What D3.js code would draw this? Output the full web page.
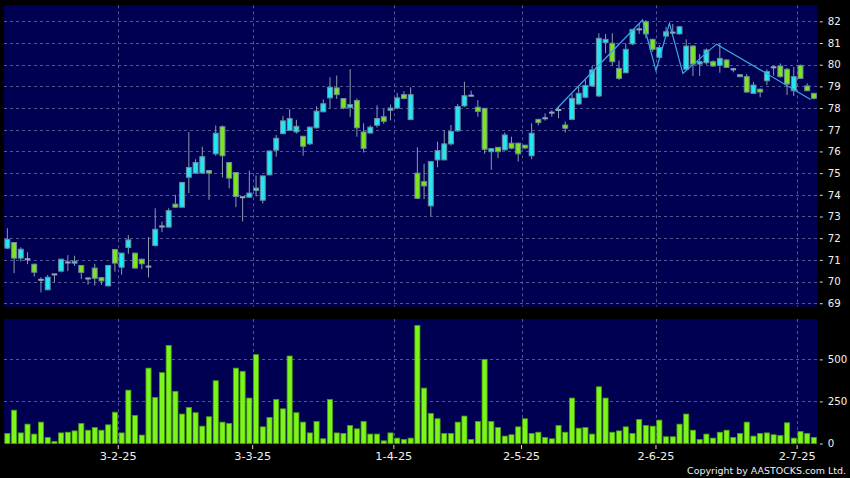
<!DOCTYPE html>
<html><head><meta charset="utf-8">
<script src="https://cdn.jsdelivr.net/npm/d3@7"></script>
<style>html,body{margin:0;padding:0;background:#000;}svg{display:block;}</style>
</head><body>
<script>
// ---- DATA (trading-day index 0 = first bar) ----
const openP  = [71.54,71.80,71.08,71.03,70.80,70.08,69.62,70.33,70.48,70.88,70.85,70.74,70.14,70.62,70.18,69.80,71.48,70.66,71.57,71.31,71.03,70.69,71.66,72.54,72.51,73.57,73.43,74.81,75.00,75.00,75.12,75.89,77.14,75.49,75.03,73.89,73.89,74.20,73.75,74.92,76.06,76.82,76.97,76.90,76.70,76.35,77.09,77.83,78.47,78.93,78.44,78.03,78.35,76.90,76.85,77.21,77.60,77.90,78.00,78.62,77.47,75.00,74.61,73.49,75.61,75.61,76.35,76.95,78.10,78.57,78.04,77.99,75.99,76.19,76.07,76.38,76.38,76.29,75.80,77.48,77.53,77.79,77.91,77.22,77.48,78.19,78.50,79.02,78.56,81.02,80.99,79.83,79.63,80.96,81.63,81.98,81.17,80.34,81.32,81.48,81.42,79.79,80.86,80.03,80.09,80.14,79.97,80.22,79.79,79.48,79.45,78.68,78.87,79.26,79.88,79.94,79.79,78.80,79.97,79.02,78.68];
const highP  = [72.46,71.82,71.58,71.35,70.82,70.20,70.30,70.35,71.05,71.22,71.19,70.76,70.20,70.82,70.20,70.76,71.50,71.33,72.14,71.33,71.05,72.05,73.38,72.77,73.38,74.00,74.60,76.90,75.64,76.22,75.15,77.20,77.20,75.50,75.05,73.92,75.12,74.89,74.90,76.05,76.76,77.64,77.95,77.46,76.72,77.15,78.09,78.40,79.42,79.50,78.46,79.80,78.44,77.30,77.20,78.13,77.95,78.16,78.70,78.78,78.96,76.19,75.43,75.55,76.45,76.99,77.22,78.19,79.22,78.80,78.37,78.00,76.15,76.20,76.87,76.68,76.40,76.30,77.30,77.50,77.76,77.90,78.07,77.38,78.65,78.99,79.33,79.94,81.45,81.42,81.45,80.19,80.99,81.65,81.88,82.06,81.20,80.90,81.75,81.88,81.78,81.17,80.90,80.49,80.75,80.20,80.99,80.25,79.85,79.57,79.57,79.20,78.90,79.79,79.94,80.06,79.85,79.90,80.00,79.14,78.70];
const lowP   = [71.50,70.39,70.92,70.80,70.23,69.50,69.60,69.96,70.42,70.48,70.72,70.11,69.85,69.82,69.85,69.78,70.46,70.31,71.28,70.60,70.57,70.19,71.62,72.28,72.50,73.40,73.40,74.08,74.98,75.00,73.77,75.80,74.80,74.30,73.43,72.77,73.87,73.92,73.60,74.90,75.76,76.80,76.95,76.82,75.80,76.30,77.05,77.80,78.00,78.42,77.95,77.60,76.68,75.95,76.82,77.10,77.27,77.43,77.95,78.40,77.45,73.80,73.80,73.00,75.27,75.60,76.27,76.90,78.05,78.55,77.60,75.89,75.15,75.69,76.05,76.10,75.53,76.10,75.64,77.20,77.42,77.60,77.53,76.87,77.45,78.15,78.45,78.98,78.50,80.53,79.94,79.30,79.60,80.90,81.42,81.22,80.60,80.30,81.30,81.42,81.40,79.75,79.48,79.48,80.00,79.90,79.63,79.85,79.65,79.45,78.70,78.65,78.50,79.06,79.50,79.40,78.60,78.56,79.35,78.78,78.40];
const closeP = [71.95,71.08,71.49,71.03,70.43,70.08,70.20,70.33,71.03,70.88,70.94,70.42,70.14,70.15,70.03,70.74,70.85,71.31,71.92,70.62,70.82,70.69,72.41,72.54,73.27,73.43,74.57,75.26,75.49,75.76,75.00,76.84,75.80,74.77,73.92,73.89,74.08,74.31,74.87,76.02,76.61,77.41,77.52,77.16,76.24,77.12,77.86,78.20,78.96,78.62,78.00,78.16,77.09,76.14,77.12,77.52,77.39,78.00,78.47,78.44,78.62,73.84,74.41,75.53,76.04,76.35,76.92,78.07,78.57,78.57,77.85,76.10,76.13,75.99,76.76,76.15,75.89,76.16,76.84,77.33,77.53,77.79,77.91,77.07,78.45,78.68,79.04,79.76,81.22,81.17,80.14,79.37,80.71,81.63,81.63,81.42,80.71,80.79,81.52,81.48,81.75,80.86,80.03,80.14,80.68,79.94,80.29,79.88,79.79,79.54,78.74,79.06,78.74,79.68,79.88,79.45,79.11,79.45,79.37,78.80,78.45];
const volume = [60,198,63,115,56,127,36,12,63,67,75,119,79,95,79,111,186,63,317,167,50,448,274,421,583,310,175,214,183,103,159,373,127,119,448,429,270,528,99,155,262,206,520,183,127,63,131,28,262,63,60,107,87,131,56,56,16,63,32,24,32,702,329,179,147,60,60,127,163,24,131,500,131,95,44,52,99,147,60,67,36,28,107,67,270,91,95,56,337,270,67,75,99,60,143,107,103,139,40,40,115,175,79,24,56,32,67,79,36,60,127,44,60,63,52,48,123,32,71,60,36];
// month ticks: label and index of the first trading day of that month
const tickLabels = ["3-2-25","3-3-25","1-4-25","2-5-25","2-6-25","2-7-25"];
const tickDays   = [17,37,58,77,97,118];
const priceTicks = [69,70,71,72,73,74,75,76,77,78,79,80,81,82];
const volTicks   = [0,250,500];
// overlay trend line (day index at bar boundary, price)
const trendDays  = [82,95,97,99,101,106,120];
const trendVals  = [77.90,82.06,79.72,81.91,79.60,80.95,78.40];

// ---- LAYOUT ----
const W = 850, H = 478;
const L = 4, R = 817.3;
const pTop = 5.3, pBot = 306.7;
const vTop = 319, vBot = 444;
const bg = "#000052", gridC = "#55558f";
const cyan = "#22e6f4", green = "#7ee41e", edge = "#6a8c9c", wickC = "#8b9bab";
const fontF = "DejaVu Sans, Verdana, sans-serif";

const svg = d3.select("body").append("svg").attr("width", W).attr("height", H);
svg.append("rect").attr("width", W).attr("height", H).attr("fill", "#000");

const n = closeP.length;
const x = d3.scaleBand().domain(d3.range(n)).range([L, R]).padding(0);
const bw = x.bandwidth();
const cx = i => x(i) + bw / 2;
const y = d3.scaleLinear().domain([68.84, 82.74]).range([pBot, pTop]);
const yv = d3.scaleLinear().domain([0, 740]).range([443.5, vTop]);

// panels
svg.append("rect").attr("x", L).attr("y", pTop).attr("width", R - L).attr("height", pBot - pTop).attr("fill", bg);
svg.append("rect").attr("x", L).attr("y", vTop).attr("width", R - L).attr("height", vBot - vTop).attr("fill", bg);

// grid
const grid = svg.append("g").attr("stroke", gridC).attr("stroke-width", 1).attr("stroke-dasharray", "3,3");
priceTicks.forEach(t => grid.append("line").attr("x1", L).attr("x2", R).attr("y1", Math.round(y(t)) + 0.5).attr("y2", Math.round(y(t)) + 0.5));
volTicks.filter(t => t > 0).forEach(t => grid.append("line").attr("x1", L).attr("x2", R).attr("y1", Math.round(yv(t)) + 0.5).attr("y2", Math.round(yv(t)) + 0.5));
tickDays.forEach(d => {
  const gx = Math.round(x(d)) + 0.5;
  grid.append("line").attr("x1", gx).attr("x2", gx).attr("y1", pTop).attr("y2", pBot);
  grid.append("line").attr("x1", gx).attr("x2", gx).attr("y1", vTop).attr("y2", vBot);
});

// fit a font size so that a sample string has a given pixel width
function fitSize(sample, targetW) {
  const t = svg.append("text").attr("font-family", fontF).attr("font-size", "20px").text(sample);
  const w = t.node().getComputedTextLength();
  t.remove();
  return 20 * targetW / w;
}
const yFs = fitSize("82", 13);
const xFs = fitSize("3-2-25", 37);
const cFs = fitSize("Copyright by AASTOCKS.com Ltd.", 159);

// right axes
const yAxis = d3.axisRight(y).tickValues(priceTicks).tickSize(3).tickPadding(5).tickFormat(d3.format("d"));
const ga = svg.append("g").attr("transform", `translate(${R + 2.5},0)`).call(yAxis);
const yvAxis = d3.axisRight(yv).tickValues(volTicks).tickSize(3).tickPadding(5).tickFormat(d3.format("d"));
const gv = svg.append("g").attr("transform", `translate(${R + 2.5},0)`).call(yvAxis);
// bottom axis
const xAxis = d3.axisBottom(x).tickValues(tickDays).tickSize(4).tickPadding(3).tickFormat((d, i) => tickLabels[i]);
const gx = svg.append("g").attr("transform", `translate(${-bw/2},${vBot + 1})`).call(xAxis);
[ga, gv, gx].forEach(g => {
  g.select(".domain").remove();
  g.selectAll("line").attr("stroke", "#d8d8d8");
  g.selectAll("text").attr("fill", "#f0f0f0").attr("font-family", fontF).attr("font-size", yFs + "px");
});
gx.selectAll("text").attr("font-size", xFs + "px");

// volume bars
svg.append("g").selectAll("rect").data(volume).join("rect")
  .attr("x", (d, i) => x(i) + 0.8).attr("width", bw - 1.6)
  .attr("y", d => yv(d)).attr("height", d => yv(0) - yv(d))
  .attr("fill", "#7cf51a").attr("stroke", "#4c9a12").attr("stroke-width", 0.8);

// candles
const cg = svg.append("g");
d3.range(n).forEach(i => {
  const o = openP[i], c = closeP[i];
  cg.append("line").attr("x1", cx(i)).attr("x2", cx(i)).attr("y1", y(highP[i])).attr("y2", y(lowP[i]))
    .attr("stroke", wickC).attr("stroke-width", 1);
  if (Math.abs(c - o) < 0.015) {
    cg.append("rect").attr("x", x(i) + 0.6).attr("width", bw - 1.2).attr("y", y(c) - 1).attr("height", 2)
      .attr("fill", "#9aa6b4");
  } else {
    const top = y(Math.max(o, c)), bot = y(Math.min(o, c));
    cg.append("rect").attr("x", x(i) + 0.9).attr("width", bw - 1.8)
      .attr("y", top).attr("height", Math.max(bot - top, 2))
      .attr("fill", c > o ? cyan : green).attr("stroke", edge).attr("stroke-width", 1);
  }
});

// trend line
const tl = d3.line().x((d, k) => x(trendDays[k])).y(d => y(d));
svg.append("path").attr("d", tl(trendVals)).attr("fill", "none").attr("stroke", "#3aa6e6").attr("stroke-width", 1.2);

// copyright
svg.append("text").attr("x", 846).attr("y", 474).attr("text-anchor", "end")
  .attr("fill", "#f0f0f0").attr("font-family", fontF).attr("font-size", cFs + "px").text("Copyright by AASTOCKS.com Ltd.");
</script>
</body></html>
